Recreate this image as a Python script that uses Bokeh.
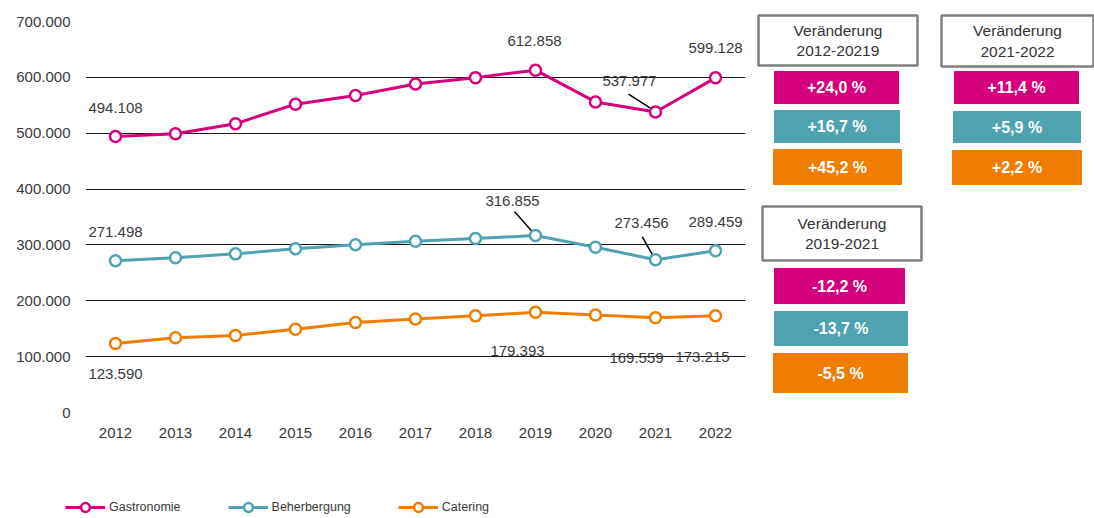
from bokeh.plotting import figure
from bokeh.models import Range1d, FixedTicker, Legend, LegendItem
from bokeh.layouts import row, column
from bokeh.core.properties import value
from bokeh.embed import file_html
from bokeh.resources import INLINE

# ---------------- data ----------------
years = [2012, 2013, 2014, 2015, 2016, 2017, 2018, 2019, 2020, 2021, 2022]
gastronomie = [494108, 499000, 517000, 552000, 567500, 588000, 599500, 612858, 556000, 537977, 599128]
beherbergung = [271498, 277000, 284000, 293000, 300500, 306500, 311500, 316855, 296000, 273456, 289459]
catering = [123590, 134000, 138000, 149000, 161000, 167500, 173000, 179393, 174500, 169559, 173215]
series_names = ["Gastronomie", "Beherbergung", "Catering"]
labeled_years = [2012, 2019, 2021, 2022]

y_ticks = [0, 100000, 200000, 300000, 400000, 500000, 600000, 700000]
y_tick_labels = ["0", "100.000", "200.000", "300.000", "400.000", "500.000", "600.000", "700.000"]

change_titles = ["Veränderung\n2012-20219", "Veränderung\n2021-2022", "Veränderung\n2019-2021"]
change_values = [
    ["+24,0 %", "+16,7 %", "+45,2 %"],
    ["+11,4 %", "+5,9 %", "+2,2 %"],
    ["-12,2 %", "-13,7 %", "-5,5 %"],
]

# ---------------- style ----------------
COLORS = ["#D5007B", "#4FA2B0", "#F07D00"]
FONT = "Liberation Sans"
TXT = "#3a3a3a"

# label pixel offsets per series for the labeled years (x_off, y_off)
label_offsets = [
    [(0, -29), (-1, -29), (-26, -31), (0, -30)],
    [(0, -29), (-23, -35), (-14, -37), (0, -29)],
    [(0, 31), (-18, 39), (-19, 40), (-13, 41)],
]
# leader lines: (series index, year, dx0 years, dy0 value, dx1, dy1)
leaders = [
    (0, 2021, -0.45, 32000, -0.02, 2500),
    (1, 2019, -0.35, 43000, -0.02, 2500),
    (1, 2021, -0.22, 41000, -0.02, 3000),
]

def fmt(v):
    return f"{v:,}".replace(",", ".")

all_series = [gastronomie, beherbergung, catering]

# ---------------- chart ----------------
p = figure(width=752, height=470, output_backend="svg", toolbar_location=None,
           x_range=Range1d(2011.5, 2022.5), y_range=Range1d(0, 700000),
           min_border_left=85, min_border_right=7, min_border_top=21, min_border_bottom=58)
p.frame_align = False
p.outline_line_color = None

p.xgrid.visible = False
p.ygrid.ticker = FixedTicker(ticks=y_ticks)
p.ygrid.grid_line_color = "#1a1a1a"
p.ygrid.grid_line_width = 1

for ax in (p.xaxis[0], p.yaxis[0]):
    ax.axis_line_color = None
    ax.major_tick_line_color = None
    ax.minor_tick_line_color = None
    ax.major_tick_out = 0
    ax.major_tick_in = 0
    ax.major_label_text_font = FONT
    ax.major_label_text_font_size = "15px"
    ax.major_label_text_color = TXT

p.xaxis.ticker = FixedTicker(ticks=years)
p.xaxis.major_label_standoff = 15
p.yaxis.ticker = FixedTicker(ticks=y_ticks)
p.yaxis.major_label_overrides = {t: l for t, l in zip(y_ticks, y_tick_labels)}
p.yaxis.major_label_standoff = 15

for vals, col in zip(all_series, COLORS):
    p.line(years, vals, line_color=col, line_width=3)

for si, yr, dx0, dy0, dx1, dy1 in leaders:
    v = all_series[si][years.index(yr)]
    p.segment(x0=[yr + dx0], y0=[v + dy0], x1=[yr + dx1], y1=[v + dy1],
              line_color="black", line_width=1.5)

for vals, col in zip(all_series, COLORS):
    p.scatter(years, vals, size=11, marker="circle", fill_color="white",
              line_color=col, line_width=2.5)

for si, vals in enumerate(all_series):
    for k, yr in enumerate(labeled_years):
        v = vals[years.index(yr)]
        xo, yo = label_offsets[si][k]
        p.text(x=[yr], y=[v], text=[fmt(v)], x_offset=xo, y_offset=yo,
               text_align="center", text_baseline="middle",
               text_font=value(FONT), text_font_size="15px", text_color=TXT)

# ---------------- change boxes ----------------
q = figure(width=342, height=470, output_backend="svg", toolbar_location=None,
           x_range=Range1d(752, 1094), y_range=Range1d(470, 0), min_border=0)
q.frame_align = False
q.outline_line_color = None
q.axis.visible = False
q.grid.visible = False

# layout (page pixel coordinates): header boxes and colored value boxes
header_boxes = [(758, 917, 15, 65), (941, 1093, 15, 66), (762, 921, 206, 260)]
value_boxes = [
    [(774, 898, 71, 103), (774, 899, 110, 142), (773, 901, 149, 184)],
    [(954, 1078, 71, 103), (953, 1080, 111, 142), (952, 1081, 150, 184)],
    [(774, 904, 268, 303), (774, 907, 311, 345), (773, 907, 353, 392)],
]

for (l, r, t, b), title in zip(header_boxes, change_titles):
    q.quad(left=[l], right=[r], top=[t], bottom=[b], fill_color="white",
           line_color="#7f7f7f", line_width=2.5)
    q.text(x=[(l + r) / 2], y=[(t + b) / 2], text=[title], text_align="center",
           text_baseline="middle", text_font=value(FONT), text_font_size="15.5px",
           text_color="#333333", text_line_height=1.2)

for boxes, vals in zip(value_boxes, change_values):
    for (l, r, t, b), col, txt in zip(boxes, COLORS, vals):
        q.quad(left=[l], right=[r], top=[t], bottom=[b], fill_color=col,
               line_color=col, line_width=1)
        q.text(x=[(l + r) / 2], y=[(t + b) / 2], text=[txt], text_align="center",
               text_baseline="middle", text_font=value(FONT), text_font_size="16px",
               text_font_style="bold", text_color="white")

# ---------------- legend strip ----------------
lg = figure(width=1094, height=48, output_backend="svg", toolbar_location=None,
            x_range=Range1d(0, 1), y_range=Range1d(0, 1), min_border=0)
lg.frame_align = False
lg.outline_line_color = None
lg.axis.visible = False
lg.grid.visible = False
items = []
for vals, col, name in zip(all_series, COLORS, series_names):
    lr = lg.line(years, vals, line_color=col, line_width=3, visible=False)
    sr = lg.scatter(years, vals, size=11, marker="circle", fill_color="white",
                    line_color=col, line_width=2.5, visible=False)
    items.append(LegendItem(label=name, renderers=[lr, sr]))
legend = Legend(items=items, orientation="horizontal", location=(65, 0),
                padding=0, margin=0, spacing=47, label_standoff=4, glyph_width=40,
                glyph_height=22, label_height=22, background_fill_alpha=0,
                border_line_color=None, inactive_fill_alpha=0,
                label_text_font=FONT, label_text_font_size="12.5px", label_text_color=TXT)
lg.add_layout(legend, "center")

layout = column(row(p, q), lg)
open("out.html", "w").write(file_html(layout, INLINE))
